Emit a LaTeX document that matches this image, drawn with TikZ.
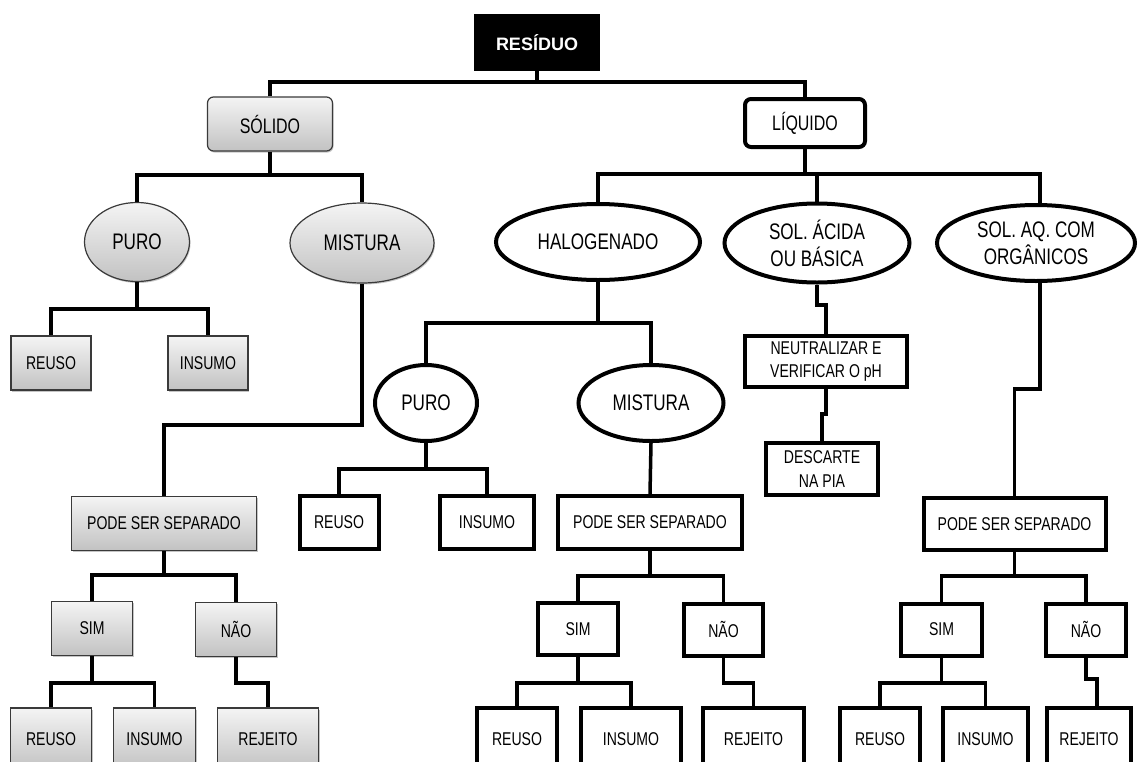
\documentclass[tikz,border=0pt]{standalone}
\usepackage{fontspec}
\setmainfont{Liberation Sans}[FakeStretch=0.76]
\newfontfamily\plainsans{Liberation Sans}
\usetikzlibrary{shapes.geometric, shadows, calc}
\definecolor{grtop}{HTML}{F4F4F4}
\definecolor{grbot}{HTML}{C2C2C2}
\definecolor{grline}{HTML}{3A3A3A}

\begin{document}
\begin{tikzpicture}[x=1pt, y=-1pt,
  every node/.style={align=center, inner sep=0pt, font=\fontsize{18.5}{23.5}\selectfont},
  link/.style={line width=3.5pt},
  box/.style={draw, line width=4pt, fill=white, minimum width=#1, minimum height=52pt},
  gbox/.style={draw=grline, line width=1.2pt, top color=grtop, bottom color=grbot, minimum width=#1, minimum height=54pt, drop shadow={shadow xshift=1pt, shadow yshift=-1.5pt, opacity=.45}},
  oval/.style={ellipse, draw, line width=4pt, fill=white, minimum width=#1, minimum height=76pt, font=\fontsize{22.5}{27}\selectfont},
  goval/.style={ellipse, gbox=#1, minimum height=79pt, font=\fontsize{22.5}{27}\selectfont}]
  \useasboundingbox (0,0) rectangle (1138,761);
  \clip (0,0) rectangle (1138,761);
  \fill[white] (0,0) rectangle (1138,761);

  % topo
  \node[fill=black, text=white, minimum width=126pt, minimum height=57pt, font=\plainsans\bfseries\fontsize{18}{22}\selectfont] (res) at (537,42.5) {RESÍDUO};
  \node[gbox=125pt, rounded corners=6pt, font=\fontsize{21}{25}\selectfont] (sol) at (270,124) {SÓLIDO};
  \node[box=120pt, minimum height=48pt, rounded corners=6pt, font=\fontsize{21}{25}\selectfont] (liq) at (805,123) {LÍQUIDO};

  % ramo solido
  \node[goval=105pt] (puroS) at (137,242) {PURO};
  \node[goval=144pt, minimum height=80pt] (mistS) at (362,243) {MISTURA};
  \node[gbox=80pt] (reusoS1) at (51,363) {REUSO};
  \node[gbox=80pt] (insumoS1) at (208,363) {INSUMO};
  \node[gbox=185pt] (pssS) at (164,523.5) {PODE SER SEPARADO};
  \node[gbox=81pt] (simS) at (92,628.5) {SIM};
  \node[gbox=81pt] (naoS) at (236,629.5) {NÃO};
  \node[gbox=81pt, minimum height=62pt] (reusoS2) at (51,739) {REUSO};
  \node[gbox=82pt, minimum height=62pt] (insumoS2) at (154.5,739) {INSUMO};
  \node[gbox=101pt, minimum height=62pt] (rejS) at (268,739) {REJEITO};

  % ramo liquido
  \node[oval=204pt] (hal) at (598,242) {HALOGENADO};
  \node[oval=185pt, minimum height=79pt] (acid) at (817,243) {SOL. ÁCIDA\\OU BÁSICA};
  \node[oval=198pt] (aq) at (1036,243) {SOL. AQ. COM\\ORGÂNICOS};
  \node[oval=102pt] (puroL) at (426,403) {PURO};
  \node[oval=145pt] (mistL) at (651,403) {MISTURA};
  \node[box=79pt, minimum height=53pt] (reusoL1) at (339,522.5) {REUSO};
  \node[box=94pt, minimum height=53pt] (insumoL1) at (487,522.5) {INSUMO};
  \node[box=184pt, minimum height=53pt] (pssL) at (650,522.5) {PODE SER SEPARADO};
  \node[box=80pt] (simL) at (578,629) {SIM};
  \node[box=79pt] (naoL) at (723.5,629.5) {NÃO};
  \node[box=80pt, minimum height=62pt] (reusoL2) at (517,739) {REUSO};
  \node[box=100pt, minimum height=62pt] (insumoL2) at (631,739) {INSUMO};
  \node[box=101pt, minimum height=62pt] (rejL) at (753.5,739) {REJEITO};
  \node[box=162pt, minimum height=51pt] (neut) at (826,361.5) {NEUTRALIZAR E\\VERIFICAR O pH};
  \node[box=112pt] (desc) at (822,469) {DESCARTE\\NA PIA};
  \node[box=182pt] (pssR) at (1014.5,524) {PODE SER SEPARADO};
  \node[box=81pt] (simR) at (941.5,629.5) {SIM};
  \node[box=80pt] (naoR) at (1086,629.5) {NÃO};
  \node[box=80pt, minimum height=62pt] (reusoR2) at (880,739) {REUSO};
  \node[box=85pt, minimum height=62pt] (insumoR2) at (985.5,739) {INSUMO};
  \node[box=84pt, minimum height=62pt] (rejR) at (1089,739) {REJEITO};

  % ligacoes
  \draw[link] (res.south) -- (res.south |- 0,82);
  \draw[link] (sol.north) |- (res.south |- 0,82) -| (liq.north);
  \draw[link] (sol.south) -- (sol.south |- 0,175);
  \draw[link] (puroS.north) |- (sol.south |- 0,175) -| (mistS.north);
  \draw[link] (puroS.south) -- (puroS.south |- 0,309);
  \draw[link] (reusoS1.north) |- (puroS.south |- 0,309) -| (insumoS1.north);
  \draw[link] (mistS.south) |- (pssS.north |- 0,425) -- (pssS.north);
  \draw[link] (pssS.south) -- (pssS.south |- 0,575);
  \draw[link] (simS.north) |- (pssS.south |- 0,575) -| (naoS.north);
  \draw[link] (simS.south) -- (simS.south |- 0,683);
  \draw[link] (reusoS2.north) |- (simS.south |- 0,683) -| (insumoS2.north);
  \draw[link] (naoS.south) |- (rejS.north |- 0,683) -- (rejS.north);

  \draw[link] (liq.south) -- (liq.south |- 0,174);
  \draw[link] (hal.north) |- (liq.south |- 0,174) -| ($(aq.north)+(4,0)$);
  \draw[link] (acid.north) -- (acid.north |- 0,174);
  \draw[link] (hal.south) -- (hal.south |- 0,323);
  \draw[link] (puroL.north) |- (hal.south |- 0,323) -| (mistL.north);
  \draw[link] (puroL.south) -- (puroL.south |- 0,469);
  \draw[link] (reusoL1.north) |- (puroL.south |- 0,469) -| (insumoL1.north);
  \draw[link] (mistL.south) -- (pssL.north);
  \draw[link] (pssL.south) -- (pssL.south |- 0,576);
  \draw[link] (simL.north) |- (pssL.south |- 0,576) -| (naoL.north);
  \draw[link] (simL.south) -- (simL.south |- 0,683);
  \draw[link] (reusoL2.north) |- (simL.south |- 0,683) -| (insumoL2.north);
  \draw[link] (naoL.south) |- (rejL.north |- 0,683) -- (rejL.north);

  \draw[link] (acid.south) -- (acid.south |- 0,305) -| (neut.north);
  \draw[link] (neut.south) -- (neut.south |- 0,414) -| (desc.north);

  \draw[link] ($(aq.south)+(4,0)$) |- (pssR.north |- 0,389) -- (pssR.north);
  \draw[link] (pssR.south) -- (pssR.south |- 0,576);
  \draw[link] (simR.north) |- (pssR.south |- 0,576) -| (naoR.north);
  \draw[link] (simR.south) -- (simR.south |- 0,683);
  \draw[link] (reusoR2.north) |- (simR.south |- 0,683) -| (insumoR2.north);
  \draw[link] (naoR.south) |- ($(rejR.north)+(8,-27)$) -- ($(rejR.north)+(8,0)$);
\end{tikzpicture}
\end{document}
